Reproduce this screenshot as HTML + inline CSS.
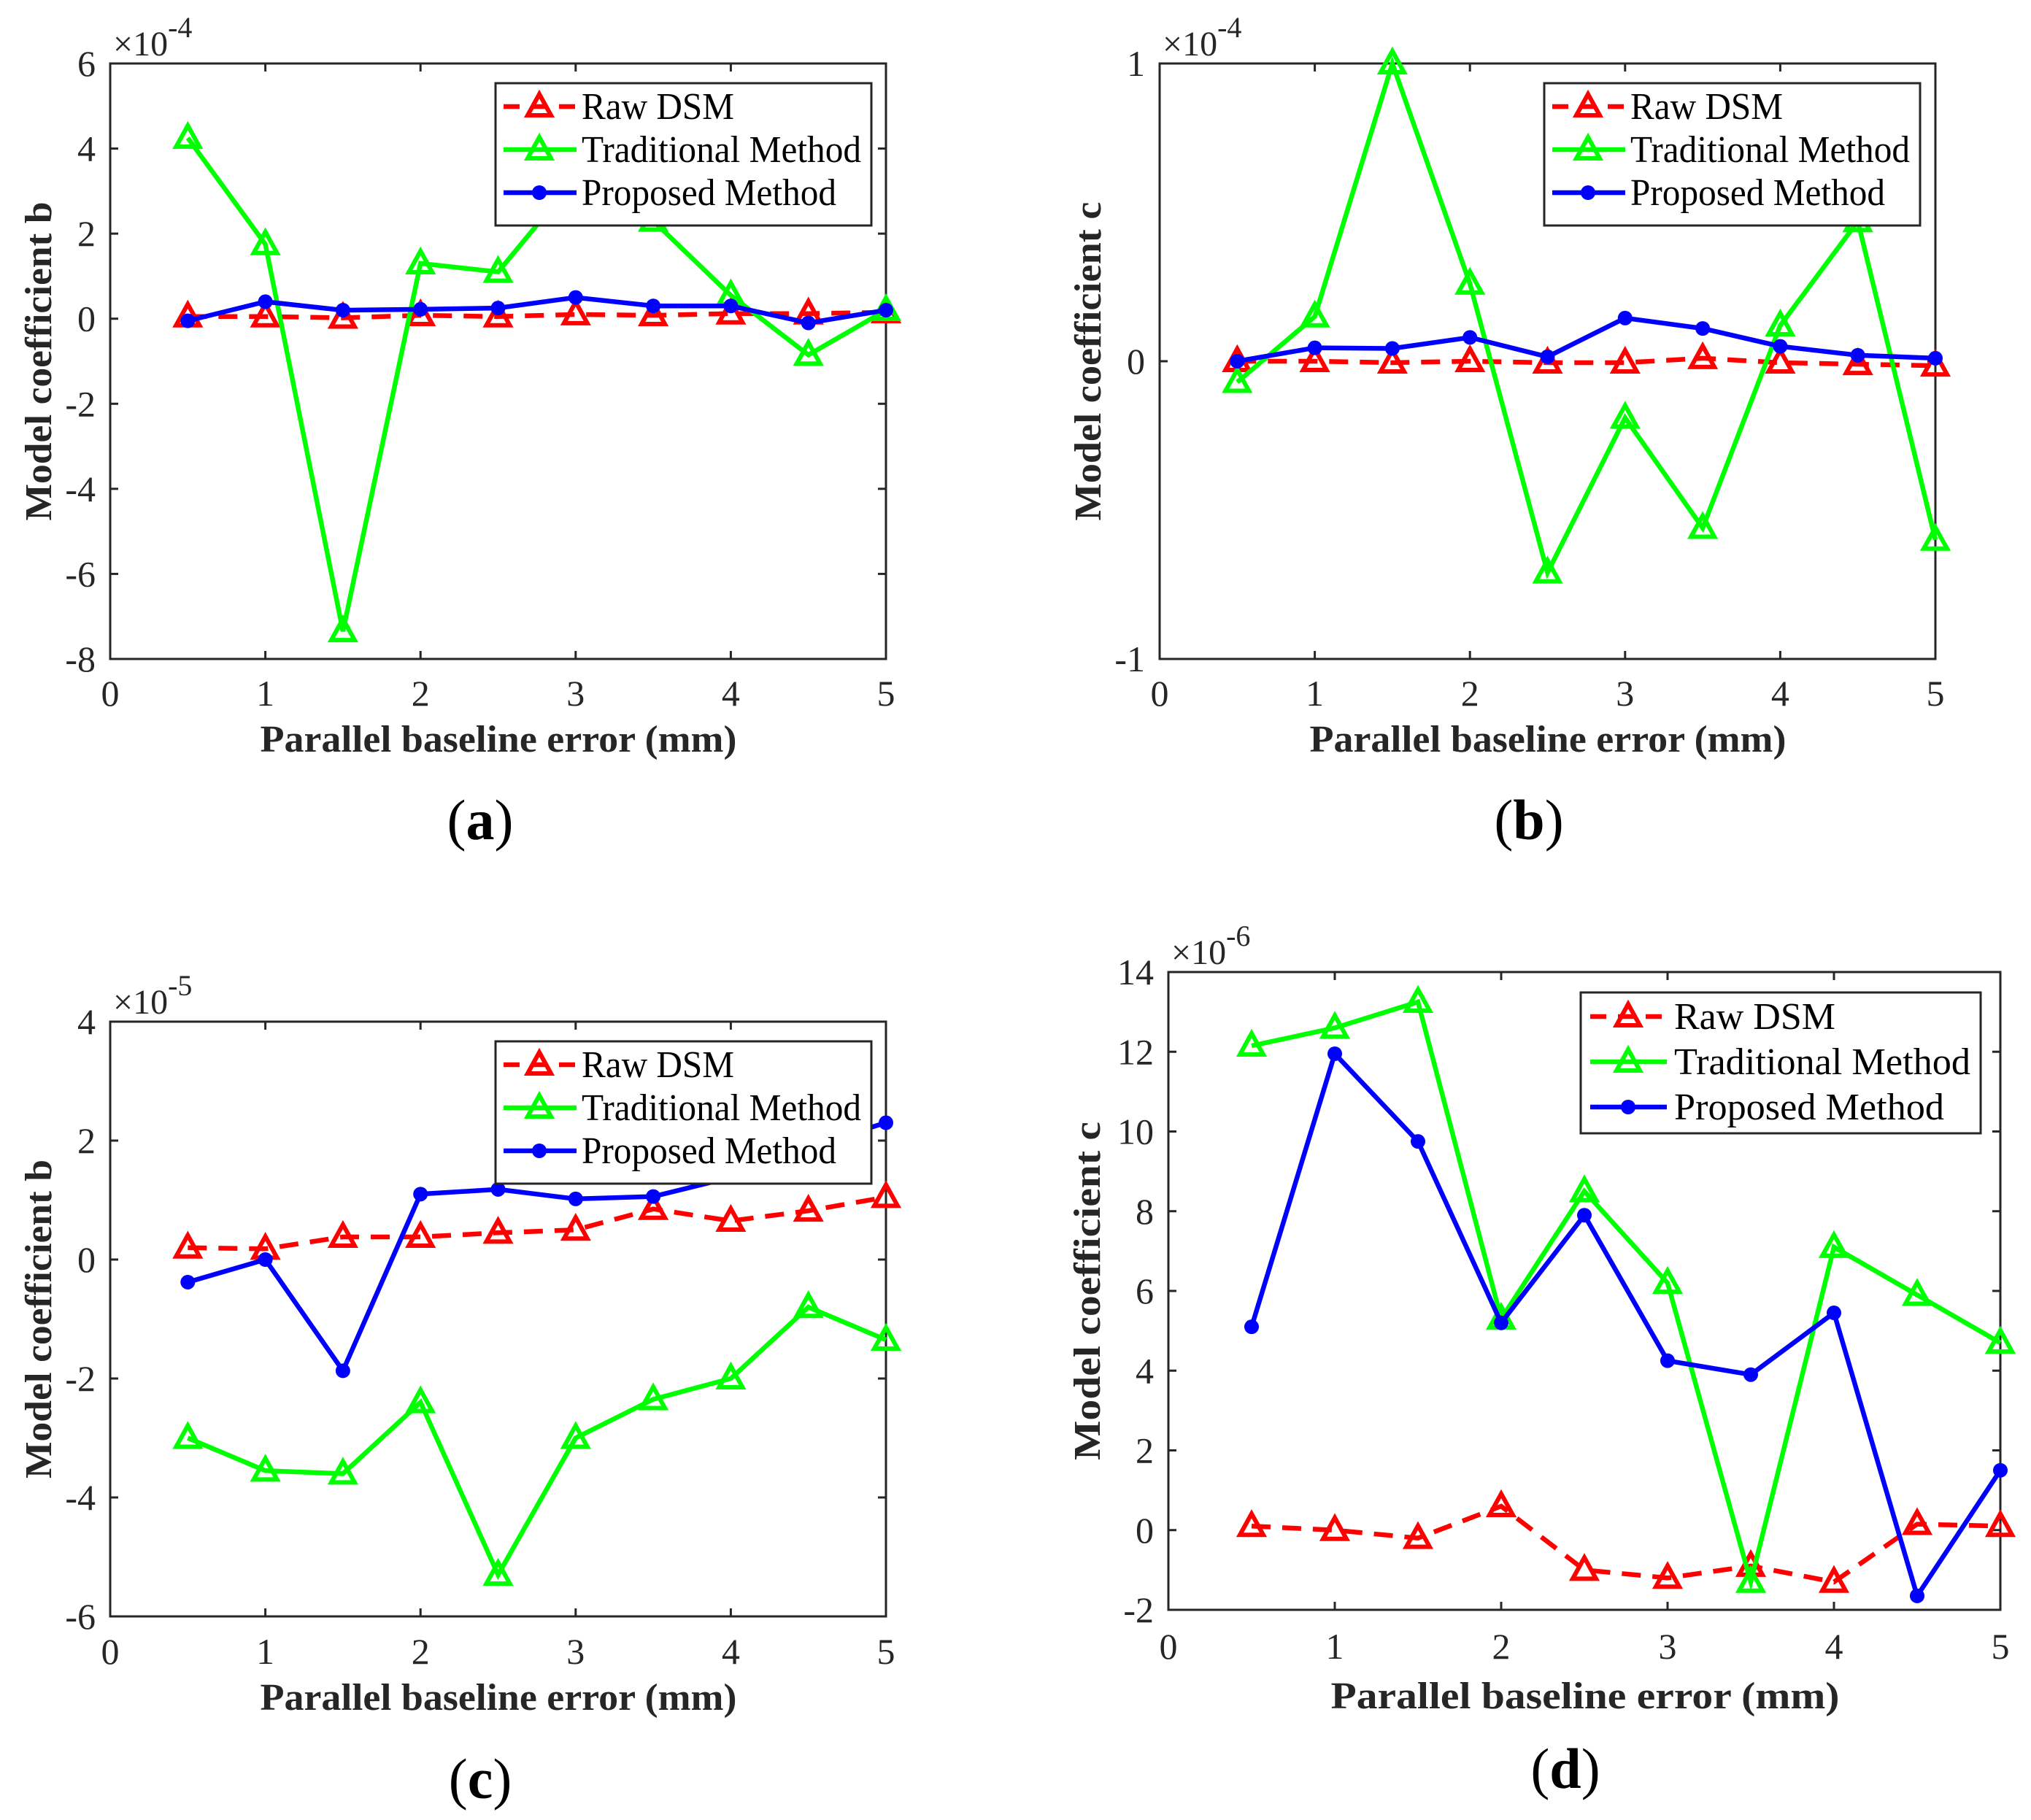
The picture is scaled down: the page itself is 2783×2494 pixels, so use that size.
<!DOCTYPE html>
<html><head><meta charset="utf-8">
<style>
html,body{margin:0;padding:0;background:#fff;}
svg{display:block;}
svg text{font-family:"Liberation Serif","DejaVu Serif",serif;}
</style></head>
<body>
<svg id="fig" width="2783" height="2494" viewBox="0 0 2783 2494" xmlns="http://www.w3.org/2000/svg" font-family="Liberation Serif, serif"></svg>
<script>
// ---- data ----
const xValues = [0.5,1,1.5,2,2.5,3,3.5,4,4.5,5];
const seriesNames = ["Raw DSM","Traditional Method","Proposed Method"];
// panel a (x1e-4)
const aRaw  = [0.05,0.05,0.02,0.08,0.05,0.1,0.08,0.12,0.12,0.15];
const aTrad = [4.25,1.75,-7.35,1.3,1.1,3.3,2.3,0.55,-0.85,0.2];
const aProp = [-0.05,0.4,0.2,0.22,0.25,0.5,0.3,0.3,-0.1,0.2];
const aTicks = [6,4,2,0,-2,-4,-6,-8];
// panel b (x1e-4)
const bRaw  = [0.0,0.0,-0.005,0.0,-0.005,-0.005,0.01,-0.005,-0.01,-0.015];
const bTrad = [-0.07,0.15,1.0,0.26,-0.71,-0.19,-0.56,0.12,0.47,-0.6];
const bProp = [0.0,0.045,0.043,0.08,0.015,0.145,0.11,0.05,0.02,0.01];
const bTicks = [1,0,-1];
// panel c (x1e-5)
const cRaw  = [0.2,0.18,0.38,0.38,0.45,0.5,0.85,0.65,0.82,1.05];
const cTrad = [-3.0,-3.55,-3.6,-2.4,-5.3,-3.0,-2.35,-2.0,-0.8,-1.35];
const cProp = [-0.38,0.0,-1.87,1.1,1.18,1.02,1.06,1.38,1.9,2.3];
const cTicks = [4,2,0,-2,-4,-6];
// panel d (x1e-6)
const dRaw  = [0.1,0.0,-0.2,0.6,-1.0,-1.2,-0.9,-1.3,0.15,0.1];
const dTrad = [12.15,12.6,13.25,5.3,8.5,6.2,-1.3,7.1,5.9,4.7];
const dProp = [5.1,11.95,9.75,5.2,7.9,4.25,3.9,5.45,-1.65,1.5];
const dTicks = [14,12,10,8,6,4,2,0,-2];
const xTicks = [0,1,2,3,4,5];

const NS="http://www.w3.org/2000/svg";
const svg=document.getElementById('fig');
function mk(tag,attrs,parent){const e=document.createElementNS(NS,tag);for(const k in attrs)e.setAttribute(k,attrs[k]);(parent||svg).appendChild(e);return e;}
function txt(s,attrs,parent){attrs['font-family']='Liberation Serif, serif';const e=mk('text',attrs,parent);e.textContent=s;return e;}

const COLORS=["#ff0000","#00ff00","#0000ff"];
function tri(cx,cy,col,parent){return mk('polygon',{points:`${cx},${cy-17} ${cx+16},${cy+12} ${cx-16},${cy+12}`,fill:'none',stroke:col,'stroke-width':6},parent);}

function panel(p){
  const g=mk('g',{});
  
  
  const X=v=>p.L+(v-0)/(5-0)*(p.R-p.L);
  const Y=v=>p.B-(v-p.ymin)/(p.ymax-p.ymin)*(p.B-p.T);
  const box=mk('rect',{x:p.L,y:p.T,width:p.R-p.L,height:p.B-p.T,fill:'none',stroke:'#262626','stroke-width':3},g);
  
  
  xTicks.forEach(t=>{
    const x=X(t);
    mk('line',{x1:x,y1:p.B,x2:x,y2:p.B-11,stroke:'#262626','stroke-width':3},g);
    mk('line',{x1:x,y1:p.T,x2:x,y2:p.T+11,stroke:'#262626','stroke-width':3},g);
    const l=txt(String(t),{x:x,y:p.xtickY,'font-size':50,'text-anchor':'middle',fill:'#262626'},g);
    
    
  });
  p.ticks.forEach(t=>{
    const y=Y(t);
    mk('line',{x1:p.L,y1:y,x2:p.L+11,y2:y,stroke:'#262626','stroke-width':3},g);
    mk('line',{x1:p.R,y1:y,x2:p.R-11,y2:y,stroke:'#262626','stroke-width':3},g);
    const l=txt(String(t),{x:p.L-20,y:y+17,'font-size':50,'text-anchor':'end',fill:'#262626'},g);
    
    
  });
  const m=txt('×10',{x:p.L+4,y:p.T-11,'font-size':48,fill:'#262626'},g);
  
  
  const ts=mk('tspan',{dy:-25,'font-size':40},m); ts.textContent=p.exp;
  const xt=txt('Parallel baseline error (mm)',{x:p.xtitleX,y:p.xtitleY,'font-size':52,'font-weight':'bold','text-anchor':'middle',fill:'#262626',textLength:p.xtitleW,lengthAdjust:'spacingAndGlyphs'},g);
  
  
  const yt=txt(p.ytitle,{x:0,y:0,'font-size':52,'font-weight':'bold','text-anchor':'middle',fill:'#262626',textLength:p.ytitleW,lengthAdjust:'spacingAndGlyphs',transform:`translate(${p.ytitleX},${(p.T+p.B)/2}) rotate(-90)`},g);
  
  
  const sl=txt('',{x:p.labX,y:p.labY,'font-size':78,'text-anchor':'middle',fill:'#000'},g);
  
  
  const t1=mk('tspan',{},sl); t1.textContent='(';
  const t2=mk('tspan',{'font-weight':'bold'},sl); t2.textContent=p.label;
  const t3=mk('tspan',{},sl); t3.textContent=')';
  const data=[p.raw,p.trad,p.prop];
  data.forEach((arr,si)=>{
    const sg=mk('g',{},g);
    
    
    const pts=arr.map((v,i)=>X(xValues[i]).toFixed(1)+','+Y(v).toFixed(1)).join(' ');
    const pl=mk('polyline',{points:pts,fill:'none',stroke:COLORS[si],'stroke-width':6.5,'stroke-linejoin':'miter','stroke-dasharray':si===0?'26,16':'none'},sg);
    
    
    arr.forEach((v,i)=>{
      const cx=X(xValues[i]),cy=Y(v);
      let mkr;
      if(si<2) mkr=tri(cx,cy,COLORS[si],sg);
      else mkr=mk('circle',{cx:cx,cy:cy,r:10,fill:COLORS[si]},sg);
      
      
    });
  });
  const lg=mk('g',{},g);
  
  
  const Lw=p.leg;
  mk('rect',{x:Lw.x,y:Lw.y,width:Lw.w,height:Lw.h,fill:'#fff',stroke:'#262626','stroke-width':3},lg);
  seriesNames.forEach((n,si)=>{
    const e=mk('g',{},lg);
    
    
    const by=Lw.y+Lw.rows[si], cy=by-17;
    mk('line',{x1:Lw.x+Lw.l1,y1:cy,x2:Lw.x+Lw.l2,y2:cy,stroke:COLORS[si],'stroke-width':6.5,'stroke-dasharray':si===0?'22,16':'none'},e);
    const mx=Lw.x+Lw.mx;
    if(si<2) tri(mx,cy,COLORS[si],e);
    else mk('circle',{cx:mx,cy:cy,r:10,fill:COLORS[si]},e);
    txt(n,{x:Lw.x+Lw.tx,y:by,'font-size':52,fill:'#000',textLength:Lw.tw[si],lengthAdjust:'spacingAndGlyphs'},e);
  });
}

const legA={w:515,h:195,rows:[49,108,167],l1:11,l2:111,mx:60,tx:118,tw:[209,383,349]};
panel({id:'a',L:151,R:1214,T:87,B:903,ymin:-8,ymax:6,ticks:aTicks,raw:aRaw,trad:aTrad,prop:aProp,exp:'-4',
  xtickY:967,xtitleX:683,xtitleY:1030,xtitleW:653,ytitle:'Model coefficient b',ytitleX:70,ytitleW:437,
  label:'a',labX:658,labY:1150,leg:Object.assign({x:679,y:114},legA)});
panel({id:'b',L:1589,R:2652,T:87,B:903,ymin:-1,ymax:1,ticks:bTicks,raw:bRaw,trad:bTrad,prop:bProp,exp:'-4',
  xtickY:967,xtitleX:2121,xtitleY:1030,xtitleW:653,ytitle:'Model coefficient c',ytitleX:1508,ytitleW:437,
  label:'b',labX:2095,labY:1150,leg:Object.assign({x:2116,y:114},legA)});
panel({id:'c',L:151,R:1214,T:1400,B:2215,ymin:-6,ymax:4,ticks:cTicks,raw:cRaw,trad:cTrad,prop:cProp,exp:'-5',
  xtickY:2280,xtitleX:683,xtitleY:2343,xtitleW:653,ytitle:'Model coefficient b',ytitleX:70,ytitleW:437,
  label:'c',labX:658,labY:2464,leg:Object.assign({x:679,y:1427},legA)});
panel({id:'d',L:1601,R:2741,T:1332,B:2206,ymin:-2,ymax:14,ticks:dTicks,raw:dRaw,trad:dTrad,prop:dProp,exp:'-6',
  xtickY:2273,xtitleX:2172,xtitleY:2341,xtitleW:697,ytitle:'Model coefficient c',ytitleX:1507,ytitleW:464,
  label:'d',labX:2145,labY:2450,leg:{x:2166,y:1360,w:548,h:193,rows:[50,112,174],l1:13,l2:118,mx:65,tx:128,tw:[221,406,370]}});
</script>
</body></html>
